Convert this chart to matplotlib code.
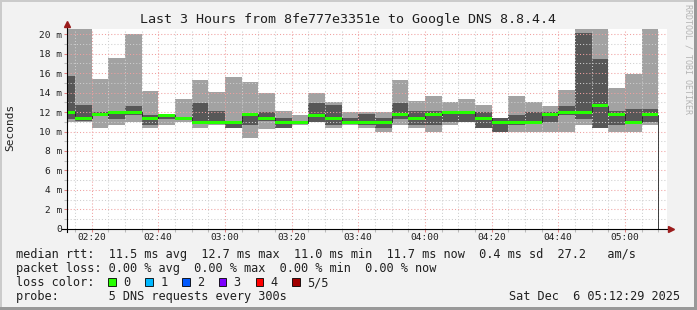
import numpy as np
import matplotlib.pyplot as plt
from matplotlib.patches import Rectangle

W, H = 697, 310
plt.rcParams['font.family'] = ['DejaVu Sans Mono']

# time axis: minutes after midnight, 5 minute RRD steps from 02:10 to 05:10
start_min = 130
step_min = 5
view_start = 2 * 60 + 12 + 29 / 60   # 02:12:29
view_end = view_start + 180          # 05:12:29

# 5 pings per step, sorted (ms)
rtt_min = [11.0, 11.0, 10.35, 10.65, 11.0, 10.35, 10.7, 11.0, 10.35, 10.65,
           10.4, 9.35, 10.3, 10.4, 10.7, 11.0, 10.35, 10.7, 10.35, 10.0,
           10.7, 10.35, 10.0, 10.7, 11.0, 10.4, 10.0, 10.0, 10.0, 10.0,
           10.0, 10.7, 10.4, 10.0, 10.0, 10.7]
rtt_q1 = [11.3, 11.1, 11.6, 11.3, 11.65, 10.7, 11.3, 11.3, 10.85, 10.85,
          10.4, 10.7, 11.1, 10.4, 10.85, 11.0, 10.7, 10.95, 10.7, 10.4,
          11.3, 10.7, 10.7, 11.0, 11.0, 10.4, 10.0, 10.7, 10.95, 11.0,
          11.65, 11.3, 10.4, 10.7, 10.9, 11.0]
rtt_median = [12.0, 11.35, 11.7, 12.0, 12.0, 11.35, 11.65, 11.35, 10.95, 10.95,
              10.95, 11.7, 11.35, 10.95, 10.9, 11.65, 11.35, 10.95, 10.95, 10.95,
              11.7, 11.35, 11.7, 12.0, 12.0, 11.35, 10.95, 10.95, 10.95, 11.7,
              12.0, 12.0, 12.65, 11.75, 10.95, 11.7]
rtt_q3 = [15.75, 12.75, 12.05, 12.1, 12.6, 11.7, 11.8, 11.45, 12.95, 12.1,
          11.1, 11.8, 12.0, 11.4, 11.0, 12.95, 12.75, 11.4, 11.75, 11.4,
          12.95, 12.1, 12.1, 12.1, 12.1, 12.0, 11.4, 11.7, 12.0, 12.0,
          12.6, 20.15, 17.5, 12.1, 12.3, 12.3]
rtt_max = [21.5, 21.5, 15.4, 17.6, 20.0, 14.2, 11.8, 13.35, 15.3, 14.05,
           15.65, 15.1, 14.0, 12.1, 11.7, 14.0, 13.05, 12.0, 12.0, 12.0,
           15.3, 13.15, 13.65, 13.05, 13.35, 12.75, 11.4, 13.65, 13.05, 12.6,
           14.25, 21.5, 21.5, 14.5, 15.95, 21.5]

xtick_pos = [140, 160, 180, 200, 220, 240, 260, 280, 300]
xtick_labels = ['02:20', '02:40', '03:00', '03:20', '03:40', '04:00', '04:20', '04:40', '05:00']
ytick_pos = [0, 2, 4, 6, 8, 10, 12, 14, 16, 18, 20]
ytick_labels = ['0', '2 m', '4 m', '6 m', '8 m', '10 m', '12 m', '14 m', '16 m', '18 m', '20 m']

loss_labels = ['0', '1', '2', '3', '4', '5/5']
loss_colors = ['#26ff00', '#00b8ff', '#0059ff', '#7e00ff', '#ff0000', '#a10000']

legend_rows = [
    'median rtt:  11.5 ms avg  12.7 ms max  11.0 ms min  11.7 ms now  0.4 ms sd  27.2   am/s',
    'packet loss: 0.00 % avg  0.00 % max  0.00 % min  0.00 % now',
    'loss color:',
    'probe:       5 DNS requests every 300s',
]

fig = plt.figure(figsize=(W / 100, H / 100), dpi=100, facecolor='#f2f2f2')

def fx(x):
    return x / W

def fy(y):
    return 1 - y / H

ax = fig.add_axes([fx(66.5), fy(228.7), 600 / W, 200 / H])
ax.set_facecolor('white')

edges = start_min + step_min * np.arange(len(rtt_median) + 1)
lo = np.array(rtt_min)
hi = np.array(rtt_max)
med = np.array(rtt_median)

# smoke
ax.stairs(hi, edges, baseline=lo, fill=True, color='#a2a2a2', lw=0, zorder=1)
ax.stairs(np.array(rtt_q3), edges, baseline=np.array(rtt_q1), fill=True,
          color='#575757', lw=0, zorder=1.1)

# grid on top of the smoke
for t in np.arange(135, 315, 5):
    if t % 20 == 0:
        ax.axvline(t, color='#f0a0a0', lw=0.75, ls=(0, (1, 2)), zorder=2)
    else:
        ax.axvline(t, color='#cfcfcf', lw=0.75, ls=(0, (1, 2)), zorder=2)
for v in range(1, 21):
    if v % 2 == 0:
        ax.axhline(v, color='#f0a0a0', lw=0.75, ls=(0, (1, 2)), zorder=2)
    else:
        ax.axhline(v, color='#cfcfcf', lw=0.75, ls=(0, (1, 2)), zorder=2)

# median line
ax.stairs(med, edges, color='#202020', lw=0.6, zorder=3)
ax.stairs(med + 0.155, edges, baseline=med - 0.155, fill=True,
          color=loss_colors[0], lw=0, zorder=4)

ax.set_xlim(view_start, view_end)
ax.set_ylim(0, 200 / 9.72)

for s in ax.spines.values():
    s.set_visible(False)

ax.set_xticks(xtick_pos)
ax.set_xticklabels(xtick_labels)
ax.set_xticks(np.arange(135, 315, 5), minor=True)
ax.set_yticks(ytick_pos)
ax.set_yticklabels(ytick_labels)
ax.set_yticks(range(1, 21, 2), minor=True)
ax.tick_params(axis='both', which='major', length=2.2, width=0.75, color='#e08080',
               labelsize=6.8, pad=1.2, labelcolor='#202020')
ax.tick_params(axis='both', which='minor', length=2.2, width=0.75, color='#bbbbbb')
ax.tick_params(axis='x', which='major', pad=0.8)

# axes with arrows
ax.plot([0, 0], [-0.015, 1.02], transform=ax.transAxes, color='black', lw=0.8,
        clip_on=False, zorder=5)
ax.plot([-0.007, 1.006], [0, 0], transform=ax.transAxes, color='black', lw=0.8,
        clip_on=False, zorder=5)
ax.plot([0], [1.025], marker='^', ms=4.2, color='#9b1c1c', transform=ax.transAxes,
        clip_on=False, zorder=6)
ax.plot([1.0075], [0], marker='>', ms=4.2, color='#9b1c1c', transform=ax.transAxes,
        clip_on=False, zorder=6)

# texts
fig.text(fx(348), fy(19), 'Last 3 Hours from 8fe777e3351e to Google DNS 8.8.4.4',
         ha='center', va='center', fontsize=9.6, color='#202020')
fig.text(fx(10.5), fy(127), 'Seconds', rotation=90, ha='center', va='center',
         fontsize=8, color='#202020')
fig.text(fx(688), fy(4), 'RRDTOOL / TOBI OETIKER', rotation=270, ha='center', va='top',
         fontsize=6, color='#b4b4b4')

row_y = [254.3, 268.7, 282.7, 296.3]
for txt, yy in zip(legend_rows, row_y):
    fig.text(fx(16), fy(yy), txt, ha='left', va='center', fontsize=8.52, color='#202020')

for i, (lab, col) in enumerate(zip(loss_labels, loss_colors)):
    x0 = 108.3 + i * 36.8
    fig.add_artist(Rectangle((fx(x0), fy(286)), 7.7 / W, 7.7 / H, facecolor=col,
                             edgecolor='black', lw=0.6, transform=fig.transFigure))
    fig.text(fx(x0 + 15), fy(282.7), lab, ha='left', va='center', fontsize=8.52,
             color='#202020')

fig.text(fx(680), fy(296.3), 'Sat Dec  6 05:12:29 2025', ha='right', va='center',
         fontsize=8.52, color='#202020')

# 3d frame
fig.add_artist(Rectangle((0, 0), 2 / W, 1, facecolor='#cbcbcb', lw=0, transform=fig.transFigure))
fig.add_artist(Rectangle((0, 1 - 2 / H), 1, 2 / H, facecolor='#cbcbcb', lw=0, transform=fig.transFigure))
fig.add_artist(Rectangle((1 - 3 / W, 0), 3 / W, 1, facecolor='#999999', lw=0, transform=fig.transFigure))
fig.add_artist(Rectangle((0, 0), 1, 3 / H, facecolor='#999999', lw=0, transform=fig.transFigure))

fig.savefig('out.png', dpi=100, facecolor=fig.get_facecolor())
